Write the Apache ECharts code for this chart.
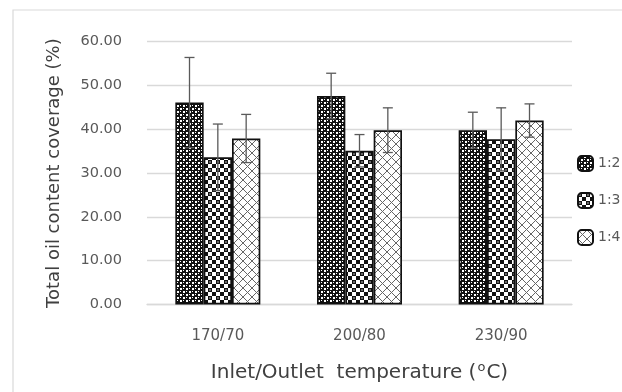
<!DOCTYPE html>
<html>
<head>
<meta charset="utf-8">
<script src="https://cdn.jsdelivr.net/npm/echarts@6/dist/echarts.min.js"></script>
<style>html,body{margin:0;padding:0;background:#fff}#c{width:622px;height:392px}</style>
</head>
<body>
<div id="c"></div>
<script>
var categories = ['170/70', '200/80', '230/90'];
var seriesNames = ['1:2', '1:3', '1:4'];
var values12 = [46.1, 47.6, 39.8];
var values13 = [33.6, 35.1, 37.7];
var values14 = [37.9, 39.8, 42.0];
var err12 = [10.3, 5.2, 4.1];
var err13 = [7.6, 3.7, 7.2];
var err14 = [5.5, 5.1, 3.8];
var yTicks = [0, 10, 20, 30, 40, 50, 60];

function makePattern(kind) {
  var c = document.createElement('canvas');
  var ctx = c.getContext('2d');
  if (kind === 0) {
    c.width = 6; c.height = 6;
    ctx.fillStyle = '#111'; ctx.fillRect(0, 0, 6, 6);
    ctx.fillStyle = '#fff';
    ctx.fillRect(0, 0, 2, 2); ctx.fillRect(3, 3, 2, 2);
    ctx.fillRect(3, 0, 1, 1); ctx.fillRect(0, 3, 1, 1);
  } else if (kind === 1) {
    c.width = 8; c.height = 8;
    ctx.fillStyle = '#fff'; ctx.fillRect(0, 0, 8, 8);
    ctx.fillStyle = '#111';
    ctx.fillRect(0, 0, 4, 4); ctx.fillRect(4, 4, 4, 4);
    ctx.fillStyle = '#666';
    ctx.fillRect(1, 1, 2, 2);
  } else {
    c.width = 9; c.height = 9;
    ctx.fillStyle = '#fff'; ctx.fillRect(0, 0, 9, 9);
    ctx.strokeStyle = '#666'; ctx.lineWidth = 1;
    ctx.beginPath();
    ctx.moveTo(0, 0); ctx.lineTo(9, 9);
    ctx.moveTo(9, 0); ctx.lineTo(0, 9);
    ctx.stroke();
  }
  return c;
}

var valueSets = [values12, values13, values14];
var errSets = [err12, err13, err14];
var BAR_FRAC = 0.2;

var series = [];
seriesNames.forEach(function (name, k) {
  series.push({
    name: name,
    type: 'bar',
    data: valueSets[k],
    barWidth: (BAR_FRAC * 100) + '%',
    barGap: '0%',
    itemStyle: {
      color: { image: makePattern(k), repeat: 'repeat' },
      borderColor: '#111',
      borderWidth: 1.7
    },
    emphasis: { disabled: true },
    z: 2
  });
});
seriesNames.forEach(function (name, k) {
  var d = categories.map(function (c, i) {
    return [i, valueSets[k][i] - errSets[k][i], valueSets[k][i] + errSets[k][i]];
  });
  series.push({
    type: 'custom',
    name: name + ' err',
    data: d,
    z: 5,
    silent: true,
    encode: { x: 0, y: [1, 2] },
    renderItem: function (params, api) {
      var cat = api.value(0);
      var lo = api.coord([cat, api.value(1)]);
      var hi = api.coord([cat, api.value(2)]);
      var band = api.size([1, 0])[0];
      var x = lo[0] + (k - 1) * band * BAR_FRAC;
      var hw = 5;
      var st = { stroke: '#5a5a5a', lineWidth: 1.3 };
      return {
        type: 'group',
        children: [
          { type: 'line', shape: { x1: x, y1: lo[1], x2: x, y2: hi[1] }, style: st },
          { type: 'line', shape: { x1: x - hw, y1: hi[1], x2: x + hw, y2: hi[1] }, style: st },
          { type: 'line', shape: { x1: x - hw, y1: lo[1], x2: x + hw, y2: lo[1] }, style: st }
        ]
      };
    }
  });
});

var chart = echarts.init(document.getElementById('c'), null, { renderer: 'canvas' });
chart.setOption({
  animation: false,
  backgroundColor: '#fff',
  textStyle: { fontFamily: 'DejaVu Sans' },
  graphic: [{
    type: 'rect',
    shape: { x: 13, y: 10, width: 640, height: 400 },
    style: { fill: 'none', stroke: '#d9d9d9', lineWidth: 1.2 },
    silent: true, z: -1
  }],
  grid: { left: 147, right: 50, top: 41.7, bottom: 87.5 },
  legend: {
    data: seriesNames,
    orient: 'vertical',
    left: 572,
    top: 150,
    itemWidth: 15,
    itemHeight: 15,
    itemGap: 20,
    textStyle: { color: '#595959', fontSize: 14, fontFamily: 'DejaVu Sans' },
    selectedMode: false
  },
  xAxis: {
    type: 'category',
    data: categories,
    axisLine: { lineStyle: { color: '#d9d9d9', width: 1.3 } },
    axisTick: { show: false },
    axisLabel: { color: '#595959', fontSize: 15, margin: 24 },
    name: 'Inlet/Outlet  temperature (' + '{sup|o}' + 'C)',
    nameLocation: 'middle',
    nameGap: 57,
    nameTextStyle: {
      color: '#404040', fontSize: 20,
      rich: { sup: { fontSize: 13, verticalAlign: 'top', padding: [0, 1, 9, 1], color: '#404040' } }
    }
  },
  yAxis: {
    type: 'value',
    min: yTicks[0],
    max: yTicks[yTicks.length - 1],
    interval: 10,
    axisLine: { show: false },
    axisTick: { show: false },
    splitLine: { lineStyle: { color: '#d9d9d9', width: 1.3 } },
    axisLabel: {
      color: '#595959', fontSize: 14.5, margin: 25,
      formatter: function (v) { return v.toFixed(2); }
    },
    name: 'Total oil content coverage (%)',
    nameLocation: 'middle',
    nameGap: 84,
    nameTextStyle: { color: '#404040', fontSize: 18 }
  },
  series: series
});
</script>
</body>
</html>
